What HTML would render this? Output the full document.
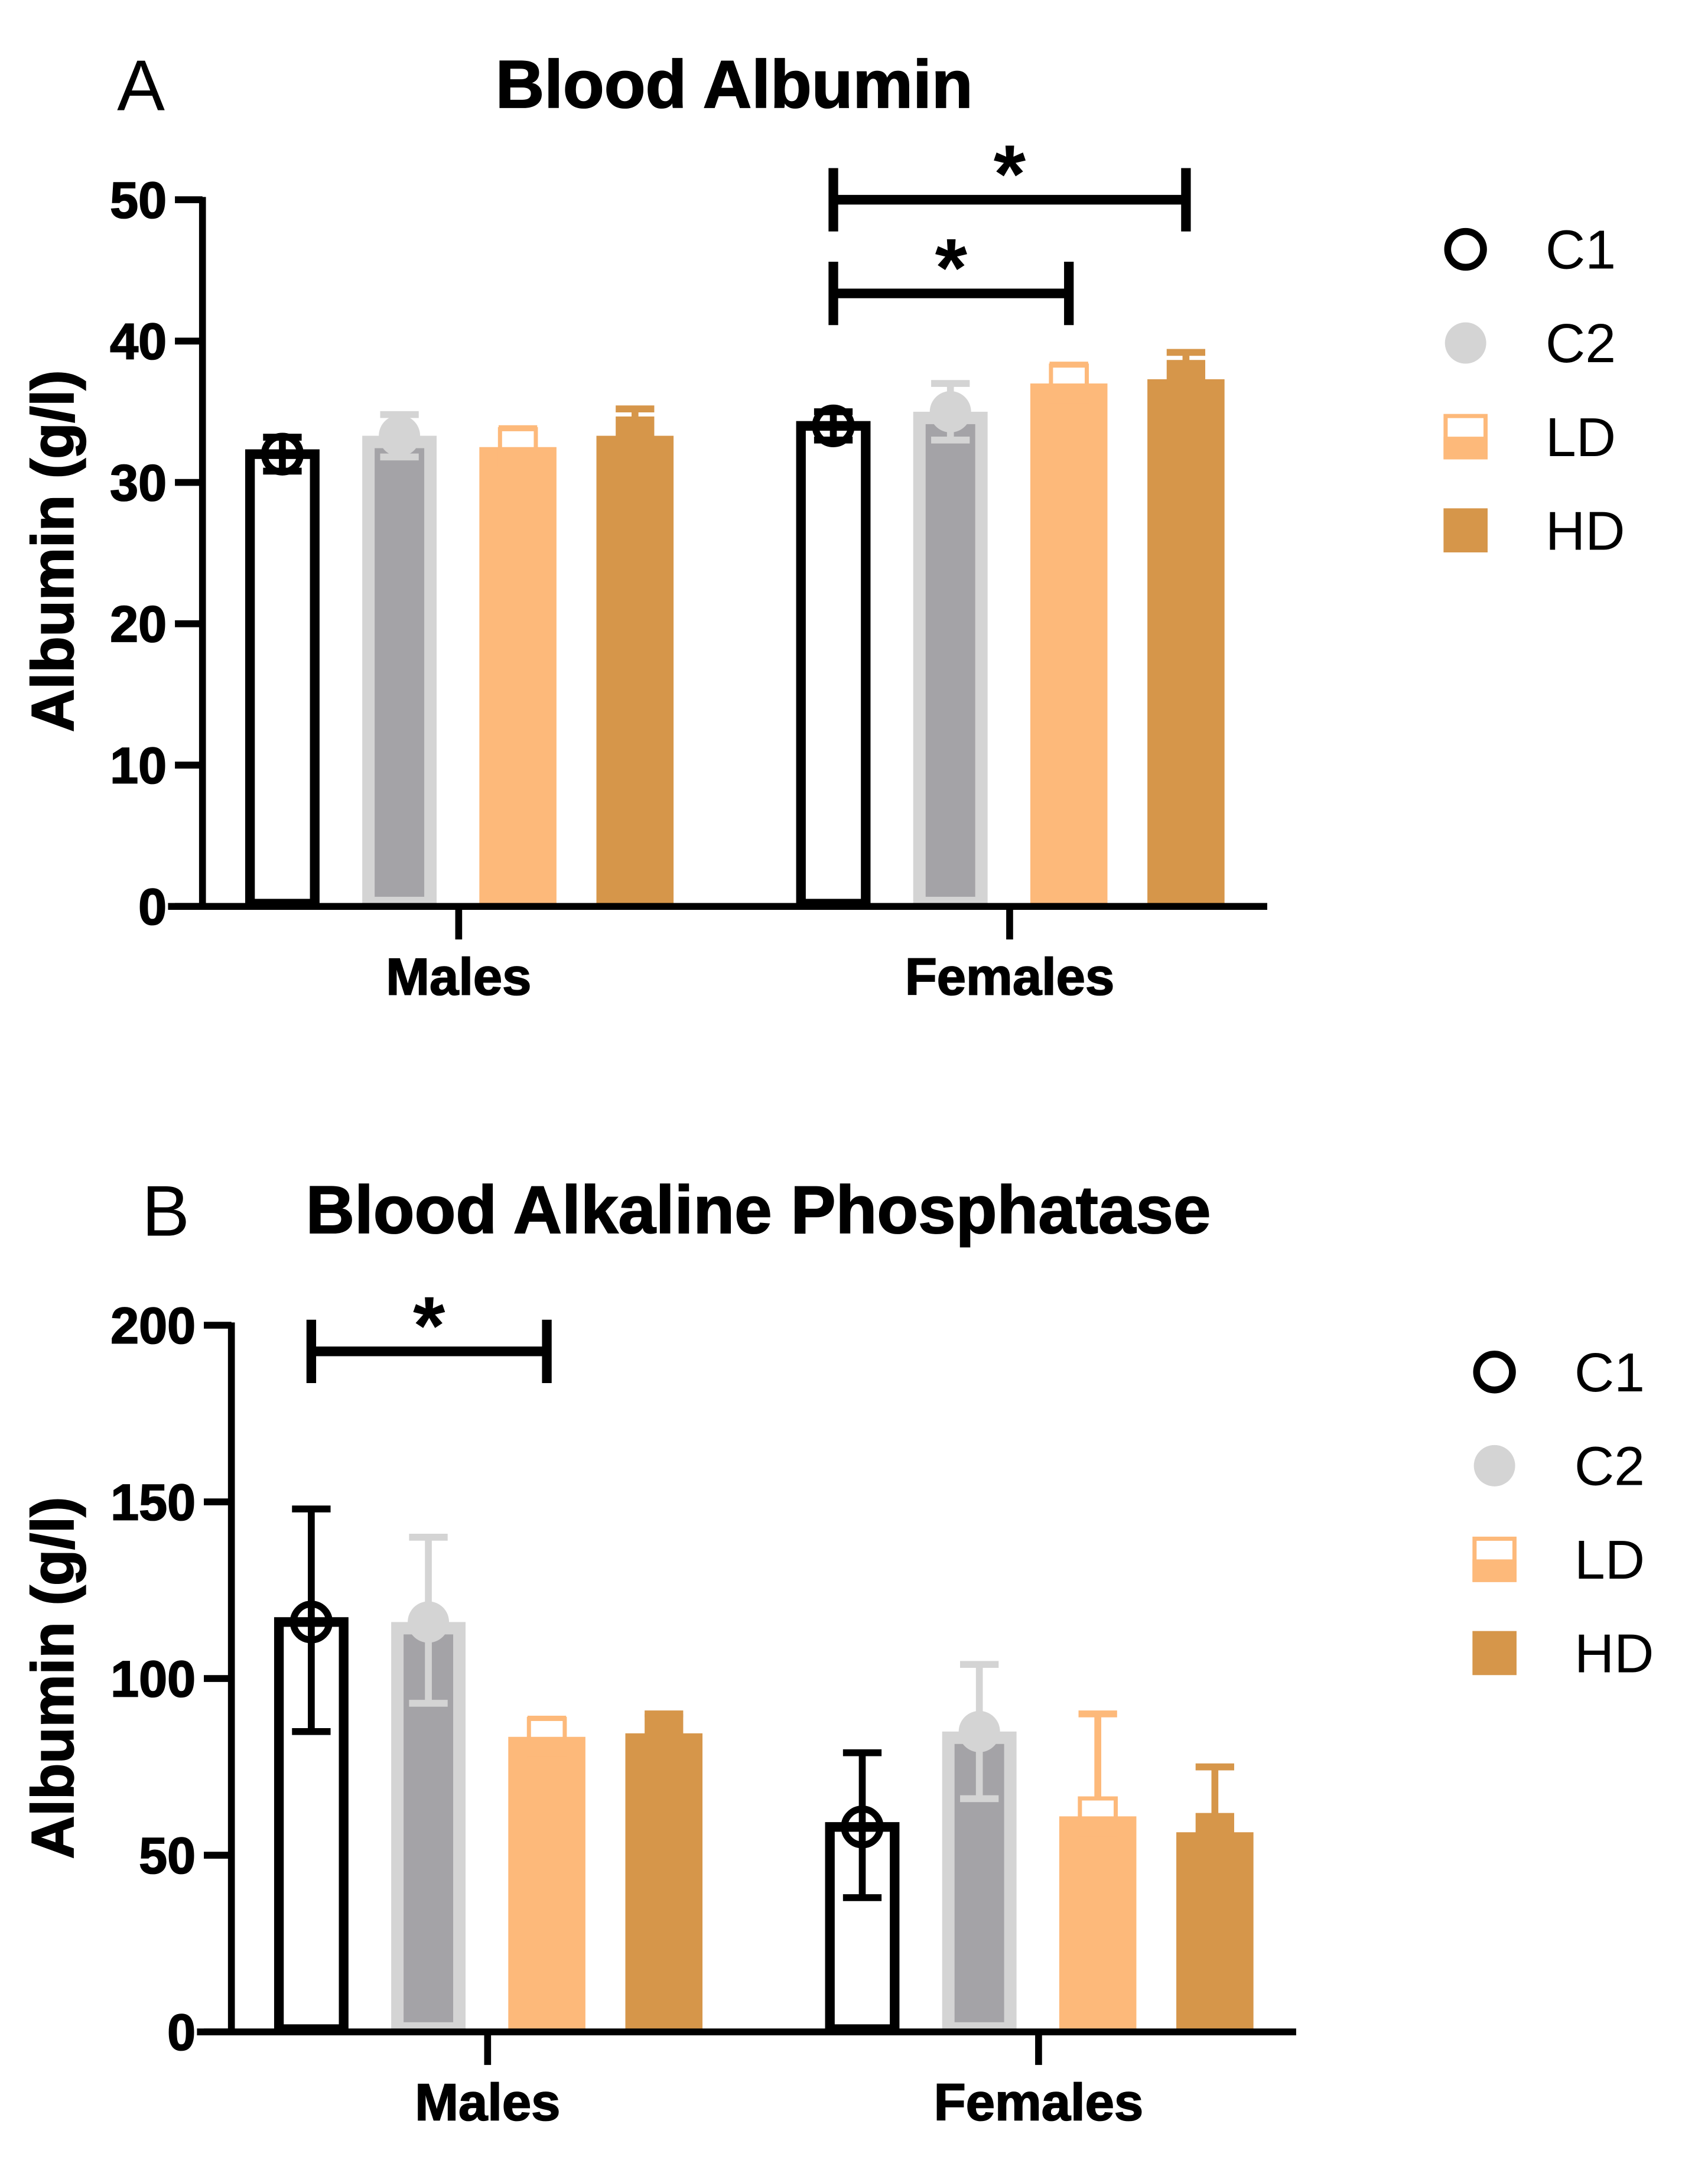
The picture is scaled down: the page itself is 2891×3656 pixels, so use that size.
<!DOCTYPE html>
<html><head><meta charset="utf-8"><style>
html,body{margin:0;padding:0;background:#fff}
svg{display:block}
text{font-family:"Liberation Sans",Arial,sans-serif}
</style></head><body>
<svg id="fig" width="2891" height="3656" viewBox="0 0 1240 1568" preserveAspectRatio="none" xmlns="http://www.w3.org/2000/svg"></svg>
<script>
const categories = ["Males","Females"];
const seriesNames = ["C1","C2","LD","HD"];
// Panel A: Blood Albumin
const aMeans = [[32.0,33.3,32.5,33.3],[34.0,35.0,37.0,37.3]];
const aUpper = [[33.2,34.8,33.8,35.2],[35.0,37.0,38.3,39.2]];
const aLower = [[30.8,31.8,31.2,31.4],[33.0,33.0,35.7,35.4]];
const aTicks = [0,10,20,30,40,50];
// Panel B: Blood Alkaline Phosphatase
const bMeans = [[116,116,83.5,84.5],[58,85,61,56.5]];
const bUpper = [[148,140,88.5,90],[79,104,90,75]];
const bLower = [[85,93,78.5,79],[38,66,32,38]];
const bTicks = [0,50,100,150,200];

const NS="http://www.w3.org/2000/svg";
const svg=document.getElementById('fig');
function el(tag,attrs,parent){const e=document.createElementNS(NS,tag);for(const k in attrs)e.setAttribute(k,attrs[k]);(parent||svg).appendChild(e);return e;}

function panel(o){
  const g=el('g',{});
  
  
  const y=v=>o.y0-(v/o.ymax)*(o.y0-o.ytop);
  const catX=[o.cx0,o.cx1];
  const off=[-128,-43,43,128];
  categories.forEach((c,ci)=>{
    seriesNames.forEach((s,si)=>{
      const cx=catX[ci]+off[si], m=o.means[ci][si], w=54;
      const top=y(m), bottom=o.y0;
      let b;
      if(si===0){b=el('rect',{x:cx-w/2+3.5,y:top,width:w-7,height:bottom-top-2,fill:'#fff',stroke:'#000','stroke-width':7},g);}
      else if(si===1){b=el('rect',{x:cx-w/2+4.5,y:top+4.5,width:w-9,height:bottom-top-7,fill:'#a4a3a7',stroke:'#d4d4d4','stroke-width':9},g);}
      else {b=el('rect',{x:cx-w/2-1,y:top,width:w+2,height:bottom-top,fill:si===2?'#fdb97a':'#d6964a'},g);}
      
      
      const col=['#000','#d4d4d4','#fdb97a','#d6964a'][si];
      const eg=el('g',{stroke:col,'stroke-width':5,fill:'none'},g);
      
      
      const yu=y(o.upper[ci][si]), yl=y(o.lower[ci][si]);
      el('line',{x1:cx,x2:cx,y1:yu,y2:yl},eg);
      el('line',{x1:cx-14,x2:cx+14,y1:yu,y2:yu},eg);
      el('line',{x1:cx-14,x2:cx+14,y1:yl,y2:yl},eg);
      let mk;
      if(si===0) mk=el('circle',{cx:cx,cy:top,r:13,fill:'none',stroke:'#000','stroke-width':5},g);
      else if(si===1) mk=el('circle',{cx:cx,cy:top,r:15,fill:'#d4d4d4'},g);
      else if(si===2){mk=el('g',{},g);el('rect',{x:cx-13,y:top-13,width:26,height:26,fill:'#fff',stroke:'#fdb97a','stroke-width':3},mk);el('rect',{x:cx-14.5,y:top,width:29,height:14.5,fill:'#fdb97a'},mk);}
      else mk=el('rect',{x:cx-14,y:top-14,width:28,height:28,fill:'#d6964a'},g);
      
      
    });
  });
  const ax=el('g',{stroke:'#000','stroke-width':5},g);
  
  
  el('line',{x1:o.ax,x2:o.ax,y1:o.ytop-2,y2:o.y0+2.5},ax);
  el('line',{x1:o.ax-25,x2:o.xend,y1:o.y0,y2:o.y0},ax);
  o.ticks.forEach(t=>{
    el('line',{x1:o.ax-20,x2:o.ax,y1:y(t),y2:y(t)},ax);
    const tl=el('text',{x:o.ax-26,y:y(t)+13,'font-size':37,'font-weight':'bold','text-anchor':'end',stroke:'#000','stroke-width':0.8},g);
    tl.textContent=t;
    
    
  });
  catX.forEach((x,i)=>{
    el('line',{x1:x,x2:x,y1:o.y0,y2:o.y0+24},ax);
    const cl=el('text',{x:x,y:o.y0+64,'font-size':38,'font-weight':'bold','text-anchor':'middle',stroke:'#000','stroke-width':0.8},g);
    cl.textContent=categories[i];
    
    
  });
  const yt=el('text',{x:0,y:0,'font-size':43,'font-weight':'bold','text-anchor':'middle',stroke:'#000','stroke-width':1,transform:`translate(53,${o.ytitle}) rotate(-90)`},g);
  yt.textContent='Albumin (g/l)';
  
  
  const pl=el('text',{x:o.lx,y:o.ly,'font-size':52},g);pl.textContent=o.id;
  
  
  const tt=el('text',{x:o.tx,y:o.ly-2,'font-size':49,'font-weight':'bold','text-anchor':o.tanchor,stroke:'#000','stroke-width':0.8},g);tt.textContent=o.title;
  
  
  o.sig.forEach(s=>{
    const sg=el('g',{},g);
    
    
    const x1=catX[s.c]+off[s.a], x2=catX[s.c]+off[s.b];
    el('line',{x1:x1,x2:x2,y1:s.y,y2:s.y,stroke:'#000','stroke-width':7},sg);
    el('line',{x1:x1,x2:x1,y1:s.y-23,y2:s.y+23,stroke:'#000','stroke-width':7},sg);
    el('line',{x1:x2,x2:x2,y1:s.y-23,y2:s.y+23,stroke:'#000','stroke-width':7},sg);
    const st=el('text',{x:(x1+x2)/2,y:s.y+2,'font-size':60,'font-weight':'bold','text-anchor':'middle'},sg);st.textContent='*';
  });
  const lg=el('g',{},g);
  
  
  seriesNames.forEach((s,i)=>{
    const ly=o.legY+i*68, lx=o.legX;
    const e=el('g',{},lg);
    
    
    if(i===0) el('circle',{cx:lx,cy:ly,r:13,fill:'none',stroke:'#000','stroke-width':5},e);
    else if(i===1) el('circle',{cx:lx,cy:ly,r:15,fill:'#d4d4d4'},e);
    else if(i===2){el('rect',{x:lx-14.5,y:ly-15,width:29,height:30,fill:'#fff',stroke:'#fdb97a','stroke-width':3},e);el('rect',{x:lx-16,y:ly,width:32,height:16,fill:'#fdb97a'},e);}
    else el('rect',{x:lx-16,y:ly-16,width:32,height:32,fill:'#d6964a'},e);
    const t=el('text',{x:lx+58,y:ly+14,'font-size':40},e);t.textContent=s;
  });
}

panel({id:'A',title:'Blood Albumin',y0:658,ytop:145,ymax:50,ax:147,xend:920,cx0:333,cx1:733,ticks:aTicks,
  means:aMeans,upper:aUpper,lower:aLower,ytitle:400,lx:85,ly:80,tx:533,tanchor:'middle',
  sig:[{c:1,a:0,b:3,y:145},{c:1,a:0,b:2,y:213}],legX:1064,legY:181});
panel({id:'B',title:'Blood Alkaline Phosphatase',y0:1475,ytop:962,ymax:200,ax:168,xend:941,cx0:354,cx1:754,ticks:bTicks,
  means:bMeans,upper:bUpper,lower:bLower,ytitle:1218,lx:103,ly:897,tx:222,tanchor:'start',
  sig:[{c:0,a:0,b:2,y:981}],legX:1085,legY:996});
</script>
</body></html>
